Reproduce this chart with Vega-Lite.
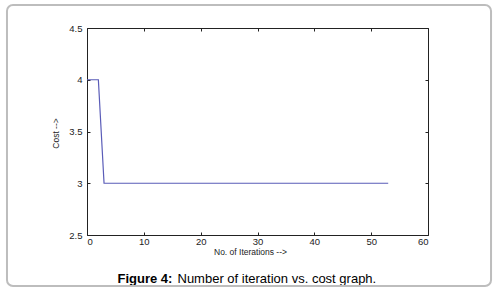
{
  "$schema": "https://vega.github.io/schema/vega-lite/v6.json",
  "width": 341,
  "height": 207,
  "autosize": {"type": "none"},
  "padding": {"left": 87, "top": 28, "right": 76, "bottom": 58},
  "background": "white",
  "config": {
    "view": {"stroke": null},
    "font": "Liberation Sans",
    "axis": {
      "grid": false,
      "zindex": 1,
      "domainColor": "#222222",
      "tickColor": "#222222",
      "labelColor": "#222222",
      "labelFont": "Liberation Sans",
      "labelFontSize": 9.5,
      "titleFont": "Liberation Sans",
      "titleFontSize": 8.5,
      "titleFontWeight": "normal",
      "titleColor": "#222222"
    }
  },
  "layer": [
    {
      "data": {"values": [{}]},
      "mark": {"type": "rect", "fill": "transparent", "stroke": "#bdbdbd", "strokeWidth": 2, "cornerRadius": 6},
      "encoding": {
        "x": {
          "datum": -14.08,
          "type": "quantitative",
          "scale": {"domain": [0, 60], "nice": false, "zero": false},
          "axis": {
            "orient": "top",
            "labels": false,
            "tickSize": -3,
            "values": [0, 10, 20, 30, 40, 50, 60],
            "title": "Figure 4:",
            "titleFontWeight": "bold",
            "titleFontSize": 13,
            "titleColor": "black",
            "titleX": 30,
            "titleY": 254,
            "titleAlign": "left",
            "titleBaseline": "alphabetic",
            "titleAngle": 0
          }
        },
        "x2": {"datum": 71.09},
        "y": {
          "datum": 4.722,
          "type": "quantitative",
          "scale": {"domain": [2.5, 4.5], "nice": false, "zero": false},
          "axis": {
            "orient": "right",
            "labels": false,
            "tickSize": -3,
            "values": [2.5, 3, 3.5, 4, 4.5],
            "title": "Number of iteration vs. cost graph.",
            "titleFontWeight": "normal",
            "titleFontSize": 13,
            "titleColor": "black",
            "titleAngle": 0,
            "titleX": -251,
            "titleY": 254,
            "titleAlign": "left",
            "titleBaseline": "alphabetic"
          }
        },
        "y2": {"datum": 2.007}
      }
    },
    {
      "data": {
        "values": [
          {"iter": 0, "cost": 4}, {"iter": 1, "cost": 4}, {"iter": 2, "cost": 4}, {"iter": 3, "cost": 3},
          {"iter": 4, "cost": 3}, {"iter": 5, "cost": 3}, {"iter": 6, "cost": 3}, {"iter": 7, "cost": 3},
          {"iter": 8, "cost": 3}, {"iter": 9, "cost": 3}, {"iter": 10, "cost": 3}, {"iter": 11, "cost": 3},
          {"iter": 12, "cost": 3}, {"iter": 13, "cost": 3}, {"iter": 14, "cost": 3}, {"iter": 15, "cost": 3},
          {"iter": 16, "cost": 3}, {"iter": 17, "cost": 3}, {"iter": 18, "cost": 3}, {"iter": 19, "cost": 3},
          {"iter": 20, "cost": 3}, {"iter": 21, "cost": 3}, {"iter": 22, "cost": 3}, {"iter": 23, "cost": 3},
          {"iter": 24, "cost": 3}, {"iter": 25, "cost": 3}, {"iter": 26, "cost": 3}, {"iter": 27, "cost": 3},
          {"iter": 28, "cost": 3}, {"iter": 29, "cost": 3}, {"iter": 30, "cost": 3}, {"iter": 31, "cost": 3},
          {"iter": 32, "cost": 3}, {"iter": 33, "cost": 3}, {"iter": 34, "cost": 3}, {"iter": 35, "cost": 3},
          {"iter": 36, "cost": 3}, {"iter": 37, "cost": 3}, {"iter": 38, "cost": 3}, {"iter": 39, "cost": 3},
          {"iter": 40, "cost": 3}, {"iter": 41, "cost": 3}, {"iter": 42, "cost": 3}, {"iter": 43, "cost": 3},
          {"iter": 44, "cost": 3}, {"iter": 45, "cost": 3}, {"iter": 46, "cost": 3}, {"iter": 47, "cost": 3},
          {"iter": 48, "cost": 3}, {"iter": 49, "cost": 3}, {"iter": 50, "cost": 3}, {"iter": 51, "cost": 3},
          {"iter": 52, "cost": 3}, {"iter": 53, "cost": 3}
        ]
      },
      "mark": {"type": "line", "color": "#5a5cb8", "strokeWidth": 1.2},
      "encoding": {
        "x": {
          "field": "iter",
          "type": "quantitative",
          "scale": {"domain": [0, 60], "nice": false, "zero": false},
          "axis": {
            "orient": "bottom",
            "tickSize": -3,
            "labelPadding": 4,
            "values": [0, 10, 20, 30, 40, 50, 60],
            "title": "No. of Iterations -->",
            "titleX": 163,
            "titleY": 16,
            "titleAlign": "center",
            "titleBaseline": "middle"
          }
        },
        "y": {
          "field": "cost",
          "type": "quantitative",
          "scale": {"domain": [2.5, 4.5], "nice": false, "zero": false},
          "axis": {
            "orient": "left",
            "tickSize": -3,
            "labelPadding": 8,
            "format": "~g",
            "values": [2.5, 3, 3.5, 4, 4.5],
            "title": "Cost -->",
            "titleX": -32,
            "titleY": 105,
            "titleAngle": -90,
            "titleAlign": "center",
            "titleBaseline": "middle"
          }
        }
      }
    }
  ],
  "resolve": {"axis": {"x": "independent", "y": "independent"}}
}
